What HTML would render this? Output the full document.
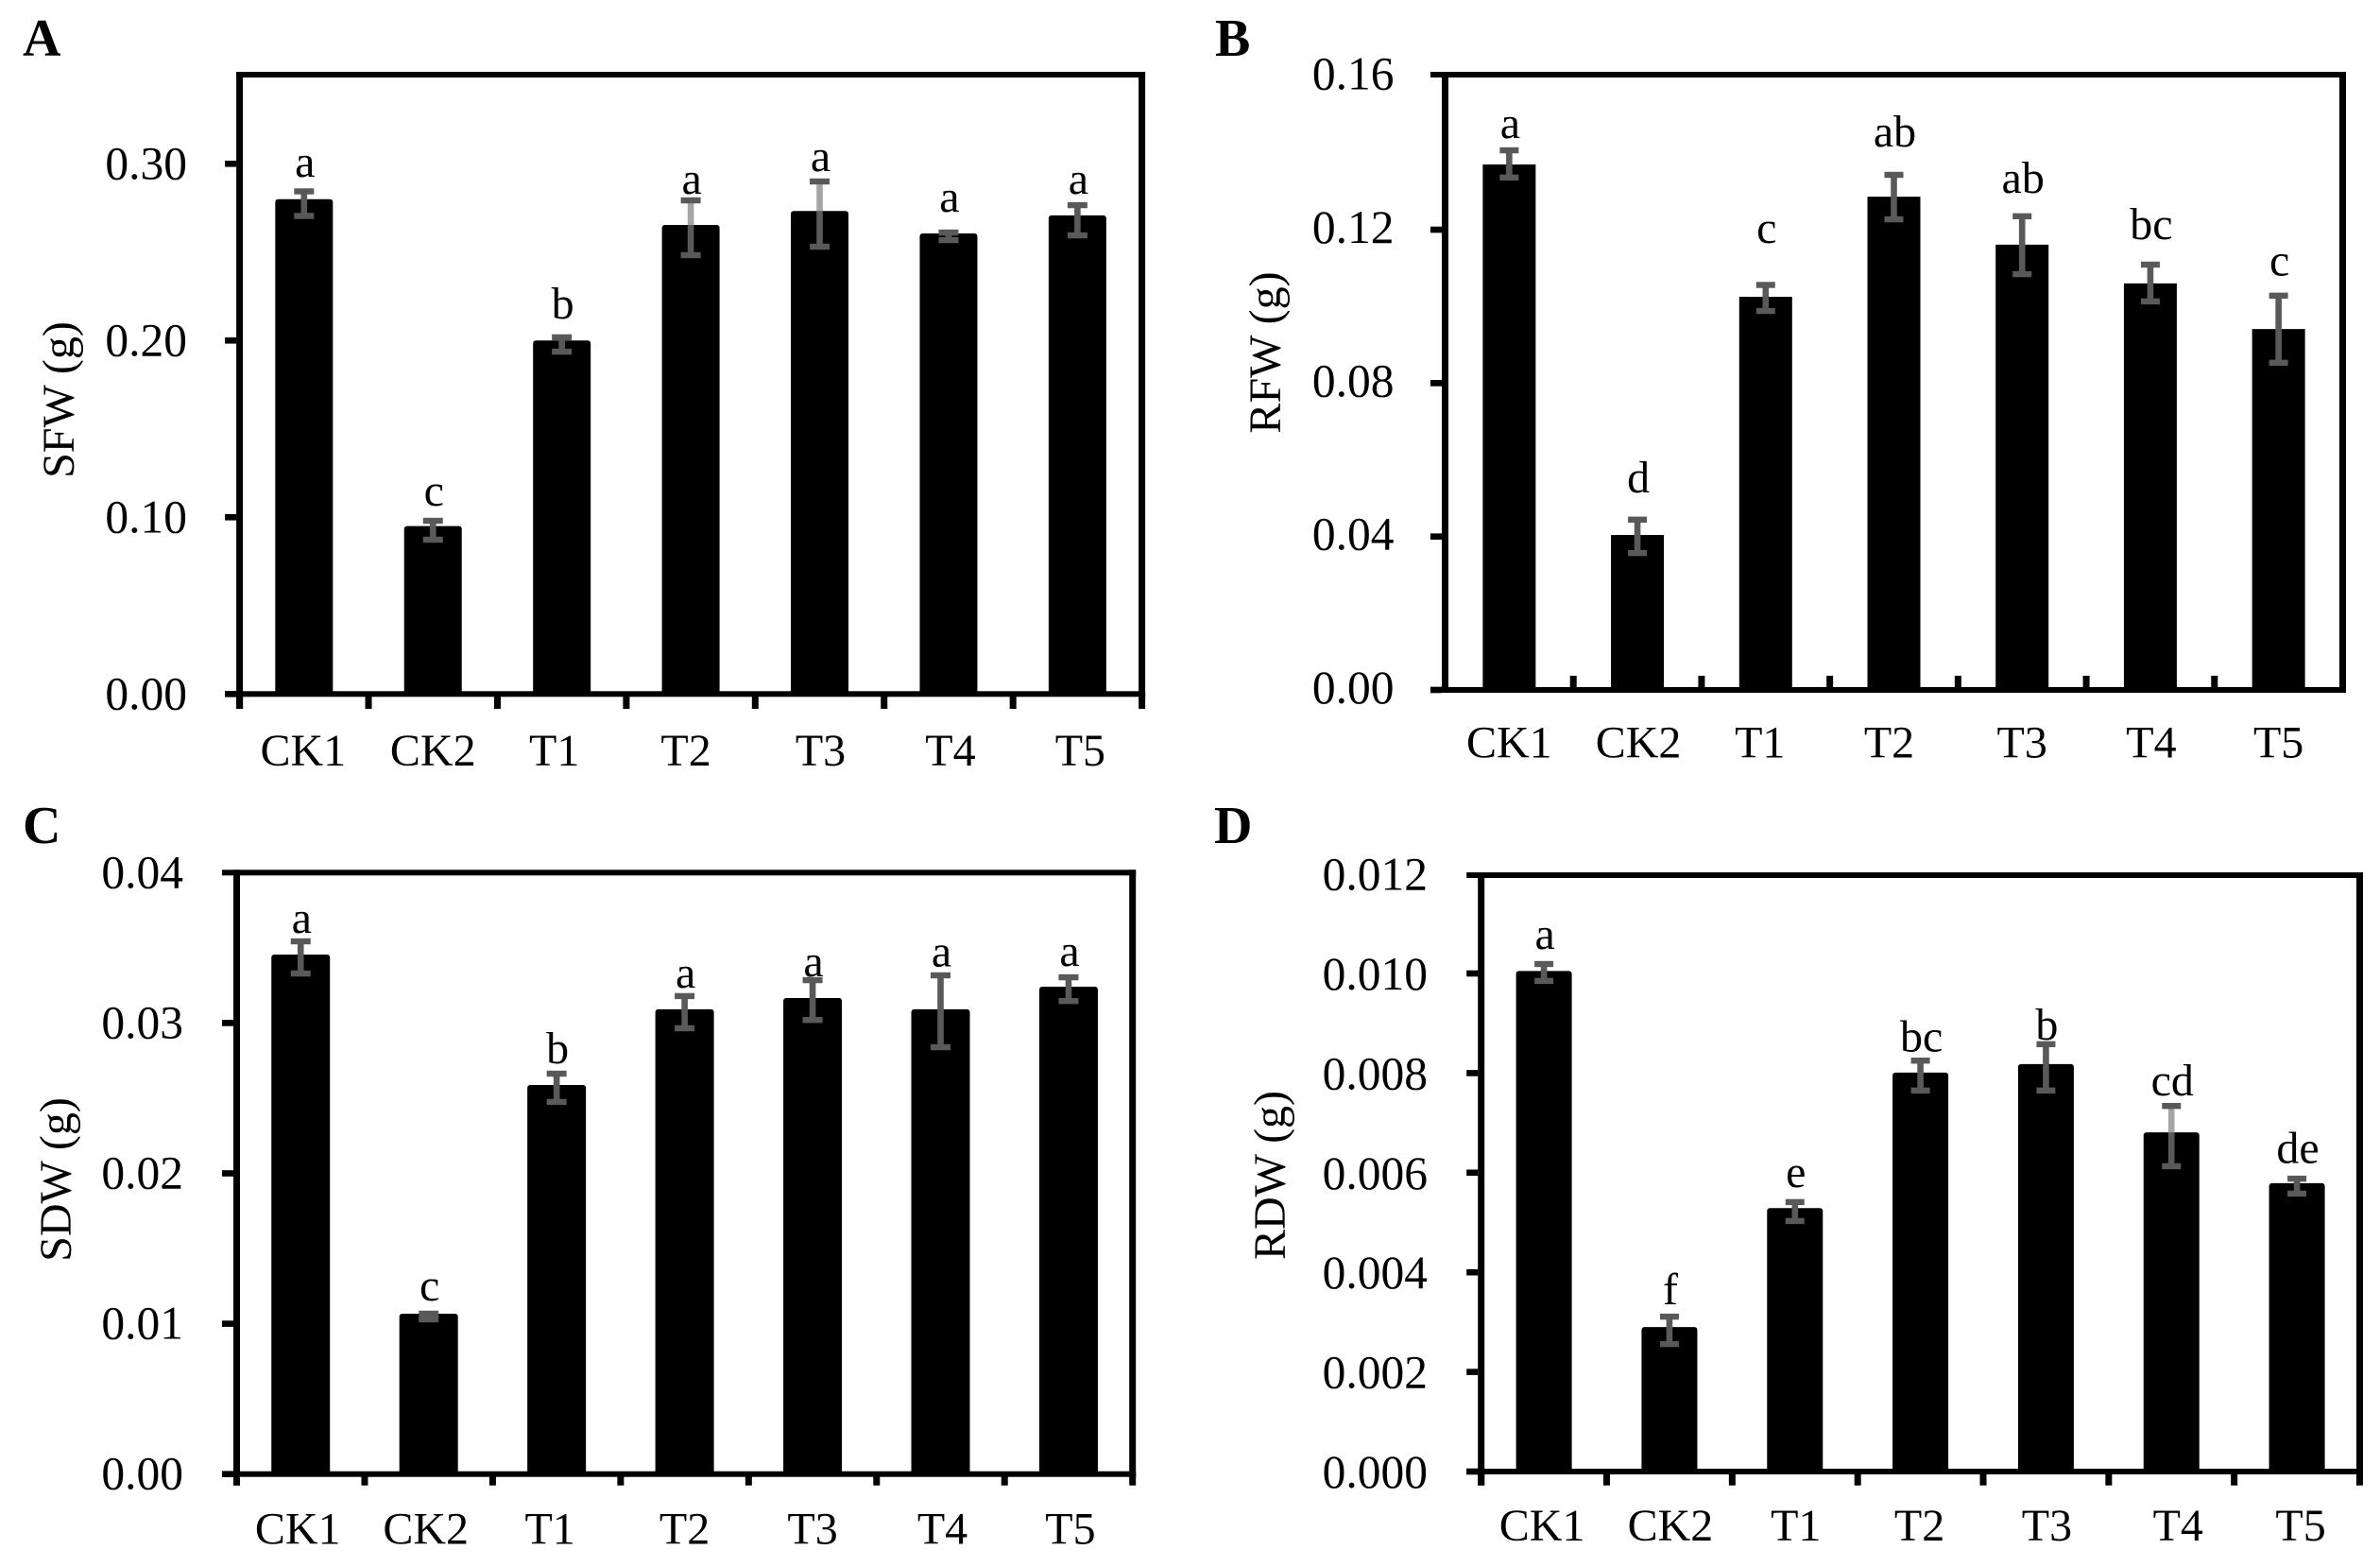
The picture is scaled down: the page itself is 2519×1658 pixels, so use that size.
<!DOCTYPE html>
<html lang="en">
<head>
<meta charset="utf-8">
<title>Shoot and root fresh and dry weight by treatment</title>
<style>
  html, body { margin: 0; padding: 0; background: #fff; }
  svg { display: block; }
  text { font-family: "Liberation Serif", "Times New Roman", serif; fill: #000; }
</style>
</head>
<body>
<svg id="figure" xmlns="http://www.w3.org/2000/svg" width="2519" height="1658" viewBox="0 0 2519 1658"></svg>
<script>
// ---------- shared categories ----------
const categories = ['CK1', 'CK2', 'T1', 'T2', 'T3', 'T4', 'T5'];

// ---------- panel A: SFW ----------
const sfwTicks = [0, 0.1, 0.2, 0.3];
const sfwTickLabels = ['0.00', '0.10', '0.20', '0.30'];
const sfwValues = [0.2800, 0.0950, 0.2000, 0.2654, 0.2733, 0.2606, 0.2708];
const sfwErrHigh = [0.2844, 0.0980, 0.2018, 0.2793, 0.2900, 0.2611, 0.2766];
const sfwErrLow = [0.2705, 0.0873, 0.1937, 0.2483, 0.2531, 0.2568, 0.2595];
const sfwLetters = ['a', 'c', 'b', 'a', 'a', 'a', 'a'];
const sfwLetterAt = [0.2927, 0.1066, 0.2125, 0.2831, 0.2959, 0.2729, 0.2831];

// ---------- panel B: RFW ----------
const rfwTicks = [0, 0.04, 0.08, 0.12, 0.16];
const rfwTickLabels = ['0.00', '0.04', '0.08', '0.12', '0.16'];
const rfwValues = [0.1370, 0.0404, 0.1025, 0.1286, 0.1161, 0.1060, 0.0941];
const rfwErrHigh = [0.1407, 0.0444, 0.1056, 0.1343, 0.1235, 0.1109, 0.1028];
const rfwErrLow = [0.1336, 0.0357, 0.0988, 0.1227, 0.1084, 0.1013, 0.0853];
const rfwLetters = ['a', 'd', 'c', 'ab', 'ab', 'bc', 'c'];
const rfwLetterAt = [0.1439, 0.0515, 0.1166, 0.1417, 0.1296, 0.1176, 0.1080];

// ---------- panel C: SDW ----------
const sdwTicks = [0, 0.01, 0.02, 0.03, 0.04];
const sdwTickLabels = ['0.00', '0.01', '0.02', '0.03', '0.04'];
const sdwValues = [0.03455, 0.01067, 0.02588, 0.03091, 0.03166, 0.03091, 0.03241];
const sdwErrHigh = [0.03543, 0.01067, 0.02663, 0.03179, 0.03285, 0.03317, 0.03304];
const sdwErrLow = [0.03329, 0.01029, 0.02475, 0.02965, 0.03020, 0.02839, 0.03146];
const sdwLetters = ['a', 'c', 'b', 'a', 'a', 'a', 'a'];
const sdwLetterAt = [0.03601, 0.01155, 0.02732, 0.03235, 0.03311, 0.03375, 0.03381];

// ---------- panel D: RDW ----------
const rdwTicks = [0, 0.002, 0.004, 0.006, 0.008, 0.010, 0.012];
const rdwTickLabels = ['0.000', '0.002', '0.004', '0.006', '0.008', '0.010', '0.012'];
const rdwValues = [0.01005, 0.00290, 0.00529, 0.00801, 0.00818, 0.00681, 0.00579];
const rdwErrHigh = [0.01019, 0.00311, 0.00541, 0.00825, 0.00858, 0.00734, 0.00588];
const rdwErrLow = [0.00985, 0.00256, 0.00503, 0.00765, 0.00765, 0.00613, 0.00558];
const rdwLetters = ['a', 'f', 'e', 'bc', 'b', 'cd', 'de'];
const rdwLetterAt = [0.01049, 0.00336, 0.00571, 0.00843, 0.00867, 0.00755, 0.00620];

const svg = document.getElementById('figure');
const NS = 'http://www.w3.org/2000/svg';
const FONT = 48;
const TICK_FONT = 49.5;
const GREY = '#595959';

function make(tag, parent, name) {
  const el = document.createElementNS(NS, tag);
  
  
  parent.appendChild(el);
  return el;
}
function box(parent, name, x, y, w, h, fill) {
  const r = make('rect', parent, name);
  r.setAttribute('x', x);
  r.setAttribute('y', y);
  r.setAttribute('width', w);
  r.setAttribute('height', h);
  r.setAttribute('fill', fill);
  return r;
}
function label(parent, name, str, x, y, anchor, size, weight) {
  const t = make('text', parent, name);
  t.setAttribute('x', x);
  t.setAttribute('y', y);
  t.setAttribute('text-anchor', anchor);
  t.setAttribute('font-size', size);
  if (weight) t.setAttribute('font-weight', weight);
  t.textContent = str;
  return t;
}

function drawPanel(p) {
  const key = p.key;
  const g = make('g', svg, 'panel-' + key);
  const xBand = (p.right - p.left) / categories.length;
  const xOf = i => p.left + xBand * (i + 0.5);
  const yOf = v => p.y0 - v * p.k;

  label(g, 'panel-letter-' + key, p.letter, p.letterX, p.letterY, 'start', 56, 'bold');

  const title = label(g, 'y-axis-title-' + key, p.title, 0, 0, 'middle', FONT);
  title.setAttribute('transform', 'translate(' + p.titleX + ' ' + p.titleY + ') rotate(-90)');

  // frame
  const topStart = p.topFromTick ? p.left - 15.5 : p.left - 3.5;
  box(g, 'top-border-' + key, topStart, p.top - 3, p.right + 3.5 - topStart, 6, '#000');
  box(g, 'right-border-' + key, p.right - 3.5, p.top - 3, 7, p.y0 - p.top + 6, '#000');
  box(g, 'y-axis-line-' + key, p.left - 3.5, p.top - 3, 7, (p.ticksOut ? p.tickEnd : p.y0 + 3) - p.top + 3, '#000');
  box(g, 'x-axis-line-' + key, p.left - 15.5, p.y0 - 3, p.right - p.left + 19, 6, '#000');

  // y ticks and labels
  p.ticks.forEach((v, i) => {
    const y = yOf(v);
    if (Math.abs(y - p.top) > 4) {
      box(g, 'y-tick-' + key + '-' + p.tickLabels[i], p.left - 15.5, y - 3.3, 12, 6.6, '#000');
    }
    label(g, 'y-tick-label-' + key + '-' + p.tickLabels[i], p.tickLabels[i], p.tickLabelX, y + p.tickLabelDy, 'end', TICK_FONT);
  });

  // x ticks
  for (let i = 0; i <= categories.length; i++) {
    const x = p.left + xBand * i;
    if (p.ticksOut) {
      box(g, 'x-tick-' + key + '-' + i, x - 3.5, p.y0, 7, p.tickEnd - p.y0, '#000');
    } else {
      box(g, 'x-tick-' + key + '-' + i, x - 3.5, p.y0 - 15, 7, 15, '#000');
    }
  }

  // bars
  categories.forEach((c, i) => {
    const x = xOf(i);
    const top = yOf(p.values[i]);
    const bar = box(g, 'bar-' + key + '-' + c, x - p.barWidth / 2, top, p.barWidth, p.y0 - top + 1, '#000');
    if (p.round) bar.setAttribute('rx', 3);
  });

  // error bars
  categories.forEach((c, i) => {
    const x = xOf(i);
    const hi = yOf(p.errHigh[i]);
    const lo = yOf(p.errLow[i]);
    const stem = box(g, 'error-stem-' + key + '-' + c, x - 3.3, hi, 6.6, lo - hi, p.fadedStems.includes(i) ? '#7f7f7f' : GREY);
    if (p.fadedStems.includes(i)) stem.setAttribute('fill-opacity', 0.7);
    box(g, 'error-cap-top-' + key + '-' + c, x - p.capWidth / 2, hi - 3.2, p.capWidth, 6.4, GREY);
    box(g, 'error-cap-bottom-' + key + '-' + c, x - p.capWidth / 2, lo - 3.2, p.capWidth, 6.4, GREY);
  });

  // significance letters and category labels
  categories.forEach((c, i) => {
    const x = xOf(i);
    label(g, 'significance-letter-' + key + '-' + c, p.letters[i], x + 1, yOf(p.letterAt[i]), 'middle', FONT);
    label(g, 'category-label-' + key + '-' + c, c, x + p.catNudge[i], p.catY, 'middle', FONT);
  });
}

drawPanel({
  key: 'sfw', letter: 'A', letterX: 24, letterY: 59, title: 'SFW (g)', titleX: 78, titleY: 423,
  left: 253.6, right: 1208.6, top: 79, y0: 734.3, k: 1870, topFromTick: false, ticksOut: true, tickEnd: 750,
  ticks: sfwTicks, tickLabels: sfwTickLabels, tickLabelX: 198, tickLabelDy: 16, round: true, barWidth: 61, capWidth: 21,
  values: sfwValues, errHigh: sfwErrHigh, errLow: sfwErrLow, letters: sfwLetters, letterAt: sfwLetterAt,
  fadedStems: [3, 4], catNudge: [-1, 0, -8, -5, 1, 2, 3], catY: 810
});
drawPanel({
  key: 'rfw', letter: 'B', letterX: 1286, letterY: 59, title: 'RFW (g)', titleX: 1355, titleY: 373,
  left: 1529.5, right: 2479.5, top: 79, y0: 730, k: 4058, topFromTick: true, ticksOut: false, tickEnd: 733,
  ticks: rfwTicks, tickLabels: rfwTickLabels, tickLabelX: 1475.5, tickLabelDy: 14, round: false, barWidth: 56, capWidth: 20,
  values: rfwValues, errHigh: rfwErrHigh, errLow: rfwErrLow, letters: rfwLetters, letterAt: rfwLetterAt,
  fadedStems: [], catNudge: [0, 1, -6, -5, 0, 1, 0], catY: 801.5
});
drawPanel({
  key: 'sdw', letter: 'C', letterX: 24, letterY: 892, title: 'SDW (g)', titleX: 75, titleY: 1248,
  left: 250.5, right: 1198.7, top: 923.3, y0: 1559.7, k: 15910, topFromTick: true, ticksOut: true, tickEnd: 1571.7,
  ticks: sdwTicks, tickLabels: sdwTickLabels, tickLabelX: 194, tickLabelDy: 16, round: true, barWidth: 62, capWidth: 21,
  values: sdwValues, errHigh: sdwErrHigh, errLow: sdwErrLow, letters: sdwLetters, letterAt: sdwLetterAt,
  fadedStems: [], catNudge: [-3, -3, -7, 0, 0, 2, 2], catY: 1633.5
});
drawPanel({
  key: 'rdw', letter: 'D', letterX: 1285, letterY: 892, title: 'RDW (g)', titleX: 1360, titleY: 1243.5,
  left: 1567.7, right: 2497.5, top: 926, y0: 1557, k: 52700, topFromTick: true, ticksOut: true, tickEnd: 1571.7,
  ticks: rdwTicks, tickLabels: rdwTickLabels, tickLabelX: 1511, tickLabelDy: 17, round: true, barWidth: 59, capWidth: 20,
  values: rdwValues, errHigh: rdwErrHigh, errLow: rdwErrLow, letters: rdwLetters, letterAt: rdwLetterAt,
  fadedStems: [5], catNudge: [-2, 1, 1, -1, 1, 7, 4], catY: 1630
});
</script>
</body>
</html>
